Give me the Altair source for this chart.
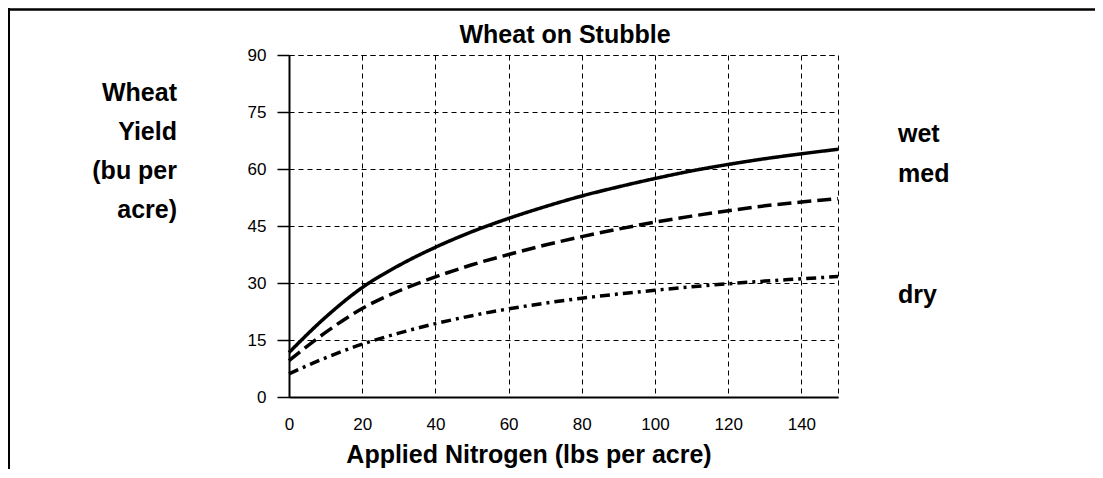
import altair as alt
import pandas as pd

# ---- data ----
nitrogen = [0, 10, 20, 30, 40, 50, 60, 70, 80, 90, 100, 110, 120, 130, 140, 150]
wet = [11.7, 21.0, 28.8, 34.6, 39.4, 43.5, 47.0, 50.1, 52.9, 55.3, 57.5, 59.5, 61.2, 62.7, 64.0, 65.2]
med = [9.6, 17.0, 23.3, 27.9, 31.6, 34.8, 37.5, 40.0, 42.2, 44.2, 46.0, 47.6, 49.0, 50.3, 51.3, 52.2]
dry = [6.1, 10.3, 13.9, 16.8, 19.3, 21.4, 23.2, 24.7, 26.0, 27.1, 28.1, 29.0, 29.8, 30.5, 31.1, 31.7]
series = ["wet", "med", "dry"]
label_y = [67.1, 56.6, 24.7]
x_ticks = [0, 20, 40, 60, 80, 100, 120, 140]
y_ticks = [0, 15, 30, 45, 60, 75, 90]
chart_title = "Wheat on Stubble"
x_title = "Applied Nitrogen (lbs per acre)"
y_title_lines = ["Wheat", "Yield", "(bu per", "acre)"]

rows = []
for name, vals in zip(series, [wet, med, dry]):
    for n, v in zip(nitrogen, vals):
        rows.append({"N": n, "yield": v, "series": name})
df = pd.DataFrame(rows)
df_lab = pd.DataFrame({"series": series, "ly": label_y})

FONT = "Liberation Sans"
W, H = 549, 342

xs = alt.Scale(domain=[0, 150], nice=False, zero=False)
ys = alt.Scale(domain=[0, 90], nice=False)

x_axis = alt.Axis(values=x_ticks, title=None, ticks=False, labelPadding=19,
                  grid=True, gridDash=[5, 4], gridColor="black", gridWidth=1, gridOpacity=1,
                  domainColor="black", domainWidth=2, labelFont=FONT, labelFontSize=17,
                  labelColor="black", labelFlush=False, labelOverlap=False)
y_axis = alt.Axis(values=y_ticks, title=None, tickSize=12, tickColor="black", tickWidth=1.5,
                  labelPadding=11, grid=True, gridDash=[5, 4], gridColor="black", gridWidth=1,
                  gridOpacity=1, domainColor="black", domainWidth=2, labelFont=FONT,
                  labelFontSize=17, labelColor="black", labelFlush=False, labelOverlap=False)

lines = alt.Chart(df).mark_line(color="black", strokeWidth=3.5, interpolate="monotone").encode(
    x=alt.X("N:Q", scale=xs, axis=x_axis),
    y=alt.Y("yield:Q", scale=ys, axis=y_axis),
    strokeDash=alt.StrokeDash("series:N",
                              scale=alt.Scale(domain=series, range=[[1, 0], [14, 6], [10, 5, 3, 5]]),
                              legend=None),
    detail="series:N",
)

labels = alt.Chart(df_lab).mark_text(
    align="left", baseline="alphabetic", font=FONT, fontSize=25, fontWeight="bold", color="black"
).encode(
    x=alt.value(609),
    y=alt.Y("ly:Q", scale=ys, axis=y_axis),
    text="series:N",
)

title_text = alt.Chart(pd.DataFrame({"t": [chart_title]})).mark_text(
    align="center", baseline="alphabetic", font=FONT, fontSize=25, fontWeight="bold", color="black"
).encode(x=alt.value(276), y=alt.value(-12), text="t:N")

xtitle_text = alt.Chart(pd.DataFrame({"t": [x_title]})).mark_text(
    align="center", baseline="alphabetic", font=FONT, fontSize=25, fontWeight="bold", color="black"
).encode(x=alt.value(240), y=alt.value(H + 66), text="t:N")

ytitle_text = alt.Chart(pd.DataFrame({"t": [0]})).mark_text(
    text=y_title_lines, align="right", baseline="alphabetic", font=FONT, fontSize=25,
    fontWeight="bold", color="black", lineHeight=39
).encode(x=alt.value(-112), y=alt.value(46))

frame_left = alt.Chart(pd.DataFrame({"a": [0]})).mark_rule(color="black", strokeWidth=2).encode(
    x=alt.value(-280), y=alt.value(-47), y2=alt.value(H + 75))
frame_top = alt.Chart(pd.DataFrame({"a": [0]})).mark_rule(color="black", strokeWidth=2.5).encode(
    x=alt.value(-281), x2=alt.value(806), y=alt.value(-45.5))

chart = alt.layer(frame_left, frame_top, lines, labels, title_text, xtitle_text, ytitle_text).properties(
    width=W, height=H, autosize="none",
    padding={"left": 281, "top": 47, "right": 257, "bottom": 72},
    background="white",
).configure_view(stroke="black", strokeDash=[5, 4], strokeWidth=1)

chart.save("out.html", embed_options={"renderer": "svg", "actions": False})
